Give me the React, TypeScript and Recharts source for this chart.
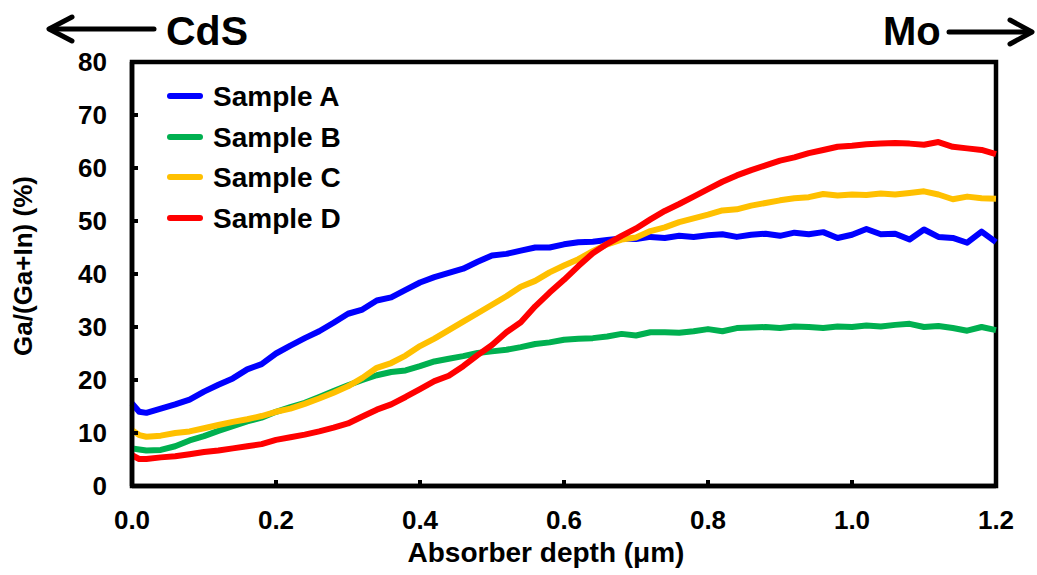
import React from 'react';
import { LineChart, Line, XAxis, YAxis, Legend, Label, ReferenceArea } from 'recharts';

const FONT = '"Liberation Sans", Arial, Helvetica, sans-serif';

// absorber depth (µm)
const depth = [
  0, 0.01, 0.02, 0.04, 0.06, 0.08, 0.1, 0.12, 0.14, 0.16, 0.18, 0.2, 0.22, 0.24, 0.26, 0.28, 0.3,
  0.32, 0.34, 0.36, 0.38, 0.4, 0.42, 0.44, 0.46, 0.48, 0.5, 0.52, 0.54, 0.56, 0.58, 0.6, 0.62,
  0.64, 0.66, 0.68, 0.7, 0.72, 0.74, 0.76, 0.78, 0.8, 0.82, 0.84, 0.86, 0.88, 0.9, 0.92, 0.94,
  0.96, 0.98, 1.0, 1.02, 1.04, 1.06, 1.08, 1.1, 1.12, 1.14, 1.16, 1.18, 1.2,
];

// Ga/(Ga+In) (%)
const sampleA = [
  15.6, 14.0, 13.8, 14.6, 15.4, 16.3, 17.8, 19.1, 20.3, 22.0, 23.0, 25.0, 26.5, 27.9, 29.2, 30.8, 32.5,
  33.3, 35.0, 35.6, 37.0, 38.4, 39.4, 40.2, 41.0, 42.3, 43.5, 43.8, 44.4, 45.0, 45.0, 45.6, 46.0,
  46.1, 46.4, 46.7, 46.6, 47.0, 46.8, 47.2, 47.0, 47.3, 47.5, 47.0, 47.4, 47.6, 47.2, 47.8, 47.5,
  47.9, 46.8, 47.4, 48.5, 47.5, 47.6, 46.5, 48.4, 47.0, 46.8, 45.9, 48.0, 46.0,
];
const sampleB = [
  7.1, 6.9, 6.7, 6.8, 7.5, 8.6, 9.4, 10.4, 11.3, 12.2, 12.9, 14.0, 14.9, 15.7, 16.8, 17.9, 19.0,
  20.0, 20.9, 21.5, 21.8, 22.6, 23.5, 24.0, 24.5, 25.1, 25.4, 25.7, 26.2, 26.8, 27.1, 27.6, 27.8,
  27.9, 28.2, 28.7, 28.4, 29.0, 29.0, 28.9, 29.2, 29.6, 29.2, 29.8, 29.9, 30.0, 29.8, 30.1, 30.0,
  29.8, 30.1, 30.0, 30.3, 30.1, 30.4, 30.6, 30.0, 30.2, 29.8, 29.3, 30.0, 29.4,
];
const sampleC = [
  10.5, 9.6, 9.3, 9.5, 10.0, 10.3, 10.9, 11.5, 12.1, 12.6, 13.2, 14.0, 14.6, 15.5, 16.5, 17.6, 18.8,
  20.4, 22.3, 23.2, 24.6, 26.4, 27.8, 29.4, 31.0, 32.6, 34.2, 35.8, 37.6, 38.7, 40.3, 41.6, 42.8,
  44.3, 45.6, 46.5, 46.9, 48.1, 48.8, 49.8, 50.5, 51.2, 52.0, 52.2, 52.9, 53.4, 53.9, 54.3, 54.5,
  55.1, 54.8, 55.0, 54.9, 55.2, 55.0, 55.3, 55.6, 55.0, 54.1, 54.6, 54.3, 54.2,
];
const sampleD = [
  5.8, 5.1, 5.1, 5.4, 5.6, 6.0, 6.4, 6.7, 7.1, 7.5, 7.9, 8.7, 9.2, 9.7, 10.3, 11.0, 11.8,
  13.1, 14.4, 15.4, 16.8, 18.3, 19.8, 20.8, 22.6, 24.7, 26.6, 29.0, 30.9, 33.9, 36.5, 38.9, 41.5,
  43.9, 45.7, 47.2, 48.6, 50.3, 51.9, 53.2, 54.6, 56.0, 57.4, 58.6, 59.6, 60.5, 61.4, 62.0, 62.8,
  63.4, 64.0, 64.2, 64.5, 64.6, 64.7, 64.6, 64.4, 64.9, 64.0, 63.7, 63.4, 62.6,
];

const xTicks = [0, 0.2, 0.4, 0.6, 0.8, 1.0, 1.2];
const yTicks = [0, 10, 20, 30, 40, 50, 60, 70, 80];

const series = [
  { key: 'a', name: 'Sample A', color: '#0000FF', values: sampleA },
  { key: 'b', name: 'Sample B', color: '#00B050', values: sampleB },
  { key: 'c', name: 'Sample C', color: '#FFC000', values: sampleC },
  { key: 'd', name: 'Sample D', color: '#FF0000', values: sampleD },
];

const data = depth.map((x, i) => ({
  x,
  a: sampleA[i],
  b: sampleB[i],
  c: sampleC[i],
  d: sampleD[i],
}));

const tickStyle = { fill: '#000', fontSize: 26, fontWeight: 'bold', fontFamily: FONT };

function LegendBox() {
  return (
    <div style={{ fontFamily: FONT, fontWeight: 'bold', fontSize: 28, color: '#000' }}>
      {series.map((s) => (
        <div key={s.key} style={{ display: 'flex', alignItems: 'center', height: 40.5 }}>
          <span
            style={{
              display: 'inline-block',
              width: 36,
              height: 6,
              borderRadius: 3,
              background: s.color,
              marginRight: 10,
            }}
          />
          <span style={{ lineHeight: 1, position: 'relative', top: 1 }}>{s.name}</span>
        </div>
      ))}
    </div>
  );
}

function YTitle(props: any) {
  const vb = props.viewBox || { y: 62, height: 424 };
  const cx = 23;
  const cy = vb.y + vb.height / 2 - 8;
  return (
    <text
      x={cx}
      y={cy}
      transform={`rotate(-90 ${cx} ${cy})`}
      textAnchor="middle"
      dominantBaseline="central"
      fill="#000"
      fontSize={26}
      fontWeight="bold"
      fontFamily={FONT}
    >
      Ga/(Ga+In) (%)
    </text>
  );
}

function XTitle(props: any) {
  const vb = props.viewBox || { x: 132, width: 864 };
  return (
    <text
      x={vb.x + vb.width / 2 - 18}
      y={562}
      textAnchor="middle"
      fill="#000"
      fontSize={28}
      fontWeight="bold"
      fontFamily={FONT}
    >
      Absorber depth (μm)
    </text>
  );
}

export default function App() {
  return (
    <div style={{ position: 'absolute', left: 0, top: 0, width: 1037, height: 575, background: '#fff' }}>
      <LineChart width={1037} height={575} data={data} margin={{ top: 62, right: 41, bottom: 0, left: 0 }}>
        <ReferenceArea x1={0} x2={1.2} y1={0} y2={80} fill="none" stroke="#000" strokeWidth={4.5} />
        <XAxis
          dataKey="x"
          type="number"
          domain={[0, 1.2]}
          ticks={xTicks}
          tickFormatter={(v: number) => v.toFixed(1)}
          height={89}
          tick={tickStyle}
          tickSize={-6}
          tickMargin={31}
          axisLine={{ stroke: '#000', strokeWidth: 4.5 }}
          tickLine={{ stroke: '#000', strokeWidth: 4 }}
          interval={0}
        >
          <Label content={<XTitle />} />
        </XAxis>
        <YAxis
          type="number"
          domain={[0, 80]}
          ticks={yTicks}
          width={132}
          tick={tickStyle}
          tickSize={-6}
          tickMargin={31}
          axisLine={{ stroke: '#000', strokeWidth: 4.5 }}
          tickLine={{ stroke: '#000', strokeWidth: 4 }}
          interval={0}
        >
          <Label content={<YTitle />} />
        </YAxis>
        <Legend
          layout="vertical"
          align="center"
          verticalAlign="middle"
          content={<LegendBox />}
          wrapperStyle={{ left: 167, top: 76, width: 'auto', height: 'auto' }}
        />
        {series.map((s) => (
          <Line
            key={s.key}
            type="linear"
            dataKey={s.key}
            name={s.name}
            stroke={s.color}
            strokeWidth={6}
            strokeLinejoin="round"
            dot={false}
            activeDot={false}
            isAnimationActive={false}
          />
        ))}
      </LineChart>
      <svg
        width={1037}
        height={575}
        style={{ position: 'absolute', left: 0, top: 0, pointerEvents: 'none' }}
      >
        <g stroke="#000" strokeWidth={5} strokeLinecap="round" strokeLinejoin="round" fill="none">
          <line x1={50} y1={29} x2={154} y2={29} />
          <polyline points="72,17 49,29 72,41" />
          <line x1={949} y1={32} x2={1031} y2={32} />
          <polyline points="1010,20 1032,32 1010,44" />
        </g>
        <text x={166} y={45} fontSize={41} fontWeight="bold" fontFamily={FONT} fill="#000">
          CdS
        </text>
        <text x={883} y={45} fontSize={40} fontWeight="bold" fontFamily={FONT} fill="#000">
          Mo
        </text>
      </svg>
    </div>
  );
}
